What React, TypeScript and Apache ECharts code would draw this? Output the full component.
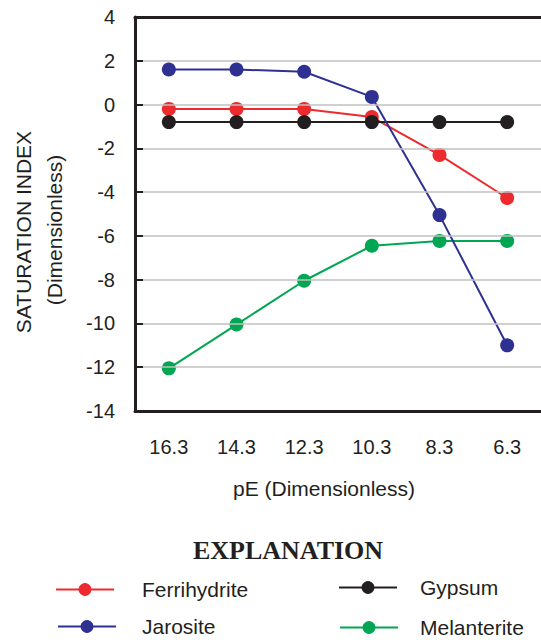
import React, { useEffect, useRef } from "react";
import * as echarts from "echarts";

const categories = ["16.3", "14.3", "12.3", "10.3", "8.3", "6.3"];
const ferrihydrite = [-0.2, -0.2, -0.2, -0.57, -2.3, -4.27];
const gypsum = [-0.8, -0.8, -0.8, -0.8, -0.8, -0.8];
const melanterite = [-12.05, -10.05, -8.05, -6.45, -6.23, -6.23];
const jarosite = [1.6, 1.6, 1.5, 0.35, -5.05, -11.0];
const yTicks = { min: -14, max: 4, interval: 2 };

const FONT = "Liberation Sans, Arial, sans-serif";
const INK = "#231f20";

export default function App() {
  const ref = useRef<HTMLDivElement>(null);
  useEffect(() => {
    document.body.style.margin = "0";
    const chart = echarts.init(ref.current!, null, { renderer: "svg" });
    const mk = (name: string, data: number[], color: string) => ({
      name,
      type: "line",
      data,
      symbol: "circle",
      symbolSize: 14,
      showSymbol: true,
      lineStyle: { color, width: 2 },
      itemStyle: { color },
      emphasis: { disabled: true },
    });
    const leg = (name: string, left: number, top: number, gap: number) => ({
      orient: "horizontal",
      left,
      top,
      padding: 0,
      itemWidth: 58,
      itemHeight: 16,
      selectedMode: false,
      data: [name],
      textStyle: {
        fontFamily: FONT,
        fontSize: 21,
        color: INK,
        padding: [0, 0, 0, gap],
      },
    });
    chart.setOption({
      animation: false,
      grid: { left: 135, top: 17, width: 413, height: 394, containLabel: false },
      xAxis: [
        {
          type: "category",
          data: categories,
          boundaryGap: true,
          position: "bottom",
          z: 5,
          axisLine: { show: true, onZero: false, lineStyle: { color: INK, width: 3 } },
          axisTick: { show: false },
          axisLabel: {
            fontFamily: FONT,
            fontSize: 20,
            color: INK,
            margin: 26,
          },
          splitLine: { show: false },
        },
        {
          type: "category",
          data: categories,
          position: "top",
          z: 5,
          axisLine: { show: true, onZero: false, lineStyle: { color: INK, width: 3 } },
          axisTick: { show: false },
          axisLabel: { show: false },
          splitLine: { show: false },
        },
      ],
      yAxis: {
        type: "value",
        min: yTicks.min,
        max: yTicks.max,
        interval: yTicks.interval,
        z: 4,
        axisLine: { show: true, onZero: false, lineStyle: { color: INK, width: 3 } },
        axisTick: {
          show: true,
          inside: true,
          length: 8,
          lineStyle: { color: INK, width: 2 },
        },
        axisLabel: {
          fontFamily: FONT,
          fontSize: 20,
          color: INK,
          margin: 20,
        },
        splitLine: { show: true, lineStyle: { color: "#c0c0c0", width: 1.5 } },
      },
      legend: [
        leg("Ferrihydrite", 55, 579, 23),
        leg("Jarosite", 57, 616, 21),
        leg("Gypsum", 338, 577, 18),
        leg("Melanterite", 339, 617, 17),
      ],
      graphic: [
        {
          type: "text",
          x: 324,
          y: 488,
          style: {
            text: "pE (Dimensionless)",
            fontFamily: FONT,
            fontSize: 21,
            fill: INK,
            textAlign: "center",
            textVerticalAlign: "middle",
          },
        },
        {
          type: "text",
          x: 23,
          y: 232,
          rotation: Math.PI / 2,
          style: {
            text: "SATURATION INDEX",
            fontFamily: FONT,
            fontSize: 21,
            fill: INK,
            textAlign: "center",
            textVerticalAlign: "middle",
          },
        },
        {
          type: "text",
          x: 54,
          y: 230,
          rotation: Math.PI / 2,
          style: {
            text: "(Dimensionless)",
            fontFamily: FONT,
            fontSize: 21,
            fill: INK,
            textAlign: "center",
            textVerticalAlign: "middle",
          },
        },
        {
          type: "text",
          x: 288,
          y: 550,
          style: {
            text: "EXPLANATION",
            fontFamily: "Liberation Serif, Times New Roman, serif",
            fontWeight: "bold",
            fontSize: 26,
            fill: INK,
            textAlign: "center",
            textVerticalAlign: "middle",
          },
        },
      ],
      series: [
        mk("Ferrihydrite", ferrihydrite, "#ed2a2e"),
        mk("Gypsum", gypsum, INK),
        mk("Melanterite", melanterite, "#00a651"),
        mk("Jarosite", jarosite, "#2e3192"),
      ],
    });
    return () => chart.dispose();
  }, []);
  return <div ref={ref} style={{ width: 541, height: 640 }} />;
}
